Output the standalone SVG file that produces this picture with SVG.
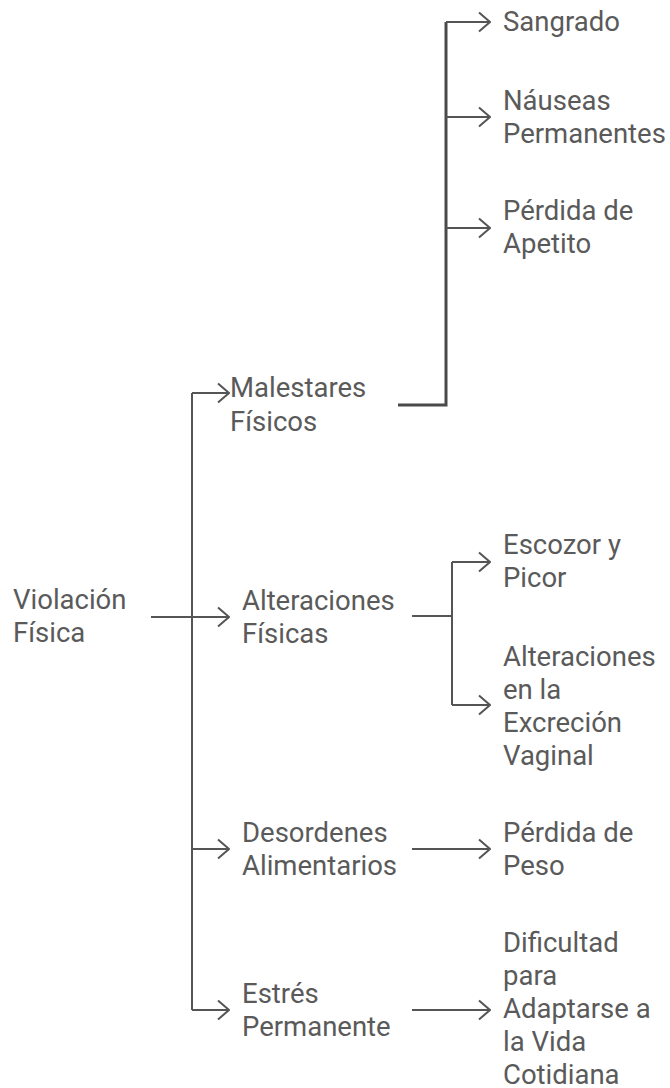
<svg xmlns="http://www.w3.org/2000/svg" width="670" height="1088" viewBox="0 0 670 1088">
<style>
text{font-family:Roboto,"Liberation Sans",sans-serif;font-size:27.5px;fill:#5a5a5a}
.c{fill:none;stroke:#555555;stroke-width:2}
.t{fill:none;stroke:#4a4a4a;stroke-width:3}
</style>
<defs>
<marker id="arr" viewBox="0 0 13 22" refX="12" refY="11" markerWidth="13" markerHeight="22" markerUnits="userSpaceOnUse" orient="auto">
<path d="M1,1.5 L12,11 L1,20.5" fill="none" stroke="#555555" stroke-width="2"/>
</marker>
</defs>
<rect width="670" height="1088" fill="#ffffff"/>
<g id="connectors">
<path class="c" d="M151,617 H229" marker-end="url(#arr)"/>
<path class="c" d="M192,393 V1010"/>
<path class="c" d="M192,393 H229" marker-end="url(#arr)"/>
<path class="c" d="M192,849 H229" marker-end="url(#arr)"/>
<path class="c" d="M192,1010 H229" marker-end="url(#arr)"/>
<path class="t" d="M398,405 H446 V22"/>
<path class="c" d="M446,22 H490" marker-end="url(#arr)"/>
<path class="c" d="M446,117 H490" marker-end="url(#arr)"/>
<path class="c" d="M446,228 H490" marker-end="url(#arr)"/>
<path class="c" d="M412,616 H452"/>
<path class="c" d="M452,562 V705"/>
<path class="c" d="M452,562 H490" marker-end="url(#arr)"/>
<path class="c" d="M452,705 H490" marker-end="url(#arr)"/>
<path class="c" d="M412,849 H490" marker-end="url(#arr)"/>
<path class="c" d="M412,1010 H490" marker-end="url(#arr)"/>
</g>
<g id="root"><text x="13" y="609">Violación<tspan x="13" dy="33">Física</tspan></text></g>
<g id="malestares"><text x="230" y="397">Malestares<tspan x="230" dy="34">Físicos</tspan></text></g>
<g id="alteraciones"><text x="242" y="610">Alteraciones<tspan x="242" dy="33">Físicas</tspan></text></g>
<g id="desordenes"><text x="242" y="842">Desordenes<tspan x="242" dy="33">Alimentarios</tspan></text></g>
<g id="estres"><text x="242" y="1003">Estrés<tspan x="242" dy="33">Permanente</tspan></text></g>
<g id="sangrado"><text x="503" y="31">Sangrado</text></g>
<g id="nauseas"><text x="503" y="110">Náuseas<tspan x="503" dy="33">Permanentes</tspan></text></g>
<g id="apetito"><text x="503" y="220">Pérdida de<tspan x="503" dy="33">Apetito</tspan></text></g>
<g id="escozor"><text x="503" y="554">Escozor y<tspan x="503" dy="33">Picor</tspan></text></g>
<g id="excrecion"><text x="503" y="666">Alteraciones<tspan x="503" dy="33">en la</tspan><tspan x="503" dy="33">Excreción</tspan><tspan x="503" dy="33">Vaginal</tspan></text></g>
<g id="peso"><text x="503" y="842">Pérdida de<tspan x="503" dy="33">Peso</tspan></text></g>
<g id="dificultad"><text x="503" y="952">Dificultad<tspan x="503" dy="33">para</tspan><tspan x="503" dy="33">Adaptarse a</tspan><tspan x="503" dy="33">la Vida</tspan><tspan x="503" dy="32.5">Cotidiana</tspan></text></g>
</svg>
